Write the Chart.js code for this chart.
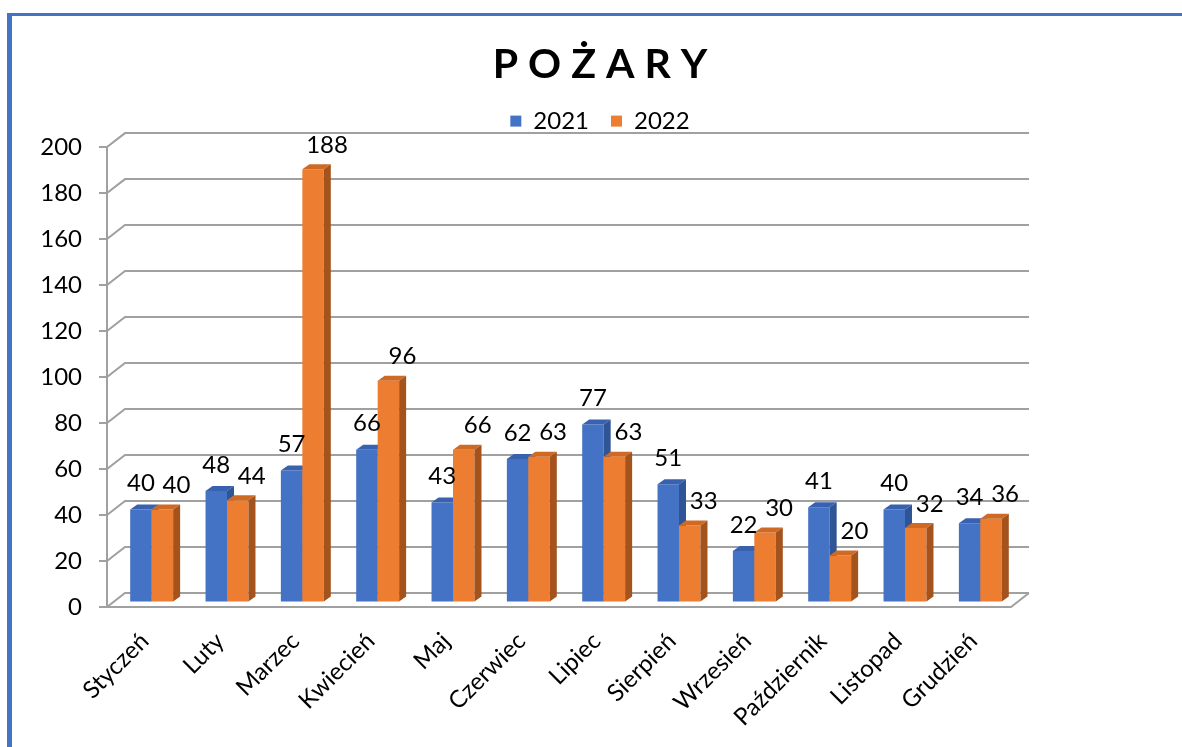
<!DOCTYPE html>
<html lang="pl">
<head>
<meta charset="utf-8">
<title>Pożary</title>
<script src="https://cdn.jsdelivr.net/npm/chart.js@4.4.1/dist/chart.umd.min.js"></script>
<style>
  html, body { margin: 0; padding: 0; background: #fff; }
  #wrap { position: relative; width: 1182px; height: 747px; overflow: hidden; }
  #frame {
    position: absolute; left: 7px; top: 13px; right: 0; bottom: 0;
    border-top: 3px solid #4472c4; border-left: 5px solid #4472c4;
  }
  #chart { position: absolute; left: 0; top: 0; }
</style>
</head>
<body>
<div id="wrap">
  <div id="frame"></div>
  <canvas id="chart" width="1182" height="747"></canvas>
</div>
<script>
const months = ['Styczeń', 'Luty', 'Marzec', 'Kwiecień', 'Maj', 'Czerwiec', 'Lipiec', 'Sierpień', 'Wrzesień', 'Październik', 'Listopad', 'Grudzień'];
const fires2021 = [40, 48, 57, 66, 43, 62, 77, 51, 22, 41, 40, 34];
const fires2022 = [40, 44, 188, 96, 66, 63, 63, 33, 30, 20, 32, 36];
const yMin = 0;
const yMax = 200;
const yStep = 20;

const FONT = 'Lato, "Open Sans", sans-serif';
const GRID = '#a0a0a0';
const WALL = { dx: 18, dy: -14 };   // front edge -> back wall
const PLANE = { dx: 7, dy: -5.5 };  // front edge -> bar faces
const DEPTH = { dx: 7, dy: -5 };    // bar thickness

const seriesColors = [
  { front: '#4472c4', top: '#3862b0', side: '#2f5597' },
  { front: '#ed7d31', top: '#cf6a24', side: '#a4531d' },
];
const labelShift = [{ dx: 0, dy: -26 }, { dx: 14, dy: -24 }];

function poly(ctx, pts, color) {
  ctx.beginPath();
  ctx.moveTo(pts[0][0], pts[0][1]);
  for (let i = 1; i < pts.length; i++) ctx.lineTo(pts[i][0], pts[i][1]);
  ctx.closePath();
  ctx.fillStyle = color;
  ctx.fill();
}

// draws walls, floor and the 3D bars; default bar drawing is skipped
const chart3d = {
  id: 'chart3d',
  beforeDatasetsDraw(chart) {
    const { ctx, chartArea: a, scales } = chart;
    const y = scales.y;
    ctx.save();
    ctx.strokeStyle = GRID;
    ctx.lineWidth = 2;
    ctx.beginPath();
    ctx.moveTo(a.left - 8, a.bottom);
    ctx.lineTo(a.right, a.bottom);
    ctx.lineTo(a.right + WALL.dx, a.bottom + WALL.dy);
    y.ticks.forEach((t) => {
      const py = y.getPixelForValue(t.value);
      ctx.moveTo(a.left - 8, py);
      ctx.lineTo(a.left, py);
      ctx.lineTo(a.left + WALL.dx, py + WALL.dy);
      ctx.lineTo(a.right + WALL.dx, py + WALL.dy);
    });
    ctx.moveTo(a.left, a.top);
    ctx.lineTo(a.left, a.bottom);
    ctx.stroke();

    ctx.translate(PLANE.dx, PLANE.dy);
    const metas = chart.getSortedVisibleDatasetMetas();
    for (let i = 0; i < chart.data.labels.length; i++) {
      metas.forEach((meta) => {
        const bar = meta.data[i];
        const c = seriesColors[meta.index];
        const l = bar.x - bar.width / 2;
        const r = bar.x + bar.width / 2;
        const t = bar.y;
        const b = bar.base;
        poly(ctx, [[l, t], [r, t], [r, b], [l, b]], c.front);
        poly(ctx, [[l, t], [l + DEPTH.dx, t + DEPTH.dy], [r + DEPTH.dx, t + DEPTH.dy], [r, t]], c.top);
        poly(ctx, [[r, t], [r + DEPTH.dx, t + DEPTH.dy], [r + DEPTH.dx, b + DEPTH.dy], [r, b]], c.side);
      });
    }

    ctx.font = '24px ' + FONT;
    ctx.fillStyle = '#000';
    ctx.textAlign = 'center';
    ctx.textBaseline = 'middle';
    metas.forEach((meta) => {
      const ds = chart.data.datasets[meta.index];
      const s = labelShift[meta.index];
      meta.data.forEach((bar, i) => {
        ctx.fillText(String(ds.data[i]), bar.x + s.dx, bar.y + s.dy);
      });
    });
    ctx.restore();
    return false;
  },
};

const ctx = document.getElementById('chart').getContext('2d');
new Chart(ctx, {
  type: 'bar',
  data: {
    labels: months,
    datasets: [
      {
        label: '2021',
        data: fires2021,
        backgroundColor: seriesColors[0].front,
        categoryPercentage: 0.57,
        barPercentage: 1,
      },
      {
        label: '2022',
        data: fires2022,
        backgroundColor: seriesColors[1].front,
        categoryPercentage: 0.57,
        barPercentage: 1,
      },
    ],
  },
  options: {
    responsive: false,
    animation: false,
    events: [],
    layout: { padding: { left: 18, right: 0, top: 0, bottom: 0 } },
    plugins: {
      title: {
        display: true,
        text: 'P O Ż A R Y',
        color: '#000',
        font: { family: FONT, size: 41, weight: 'bold', lineHeight: 1.1 },
        padding: { top: 42, bottom: 0 },
      },
      legend: {
        position: 'top',
        labels: {
          boxWidth: 11,
          boxHeight: 11,
          padding: 22,
          color: '#000',
          font: { family: FONT, size: 24 },
        },
      },
      tooltip: { enabled: false },
    },
    scales: {
      x: {
        grid: { display: false, drawTicks: false },
        border: { display: false },
        ticks: {
          color: '#000',
          font: { family: FONT, size: 24 },
          minRotation: 45,
          maxRotation: 45,
          padding: 20,
        },
        afterFit: (s) => { s.height = 140; },
      },
      gap: {
        type: 'category',
        position: 'top',
        labels: [''],
        grid: { display: false, drawTicks: false },
        border: { display: false },
        ticks: { display: false },
        afterFit: (s) => { s.height = 4; },
      },
      y: {
        min: yMin,
        max: yMax,
        grid: { display: false, drawTicks: false },
        border: { display: false },
        ticks: {
          stepSize: yStep,
          color: '#000',
          padding: 25,
          font: { family: FONT, size: 24 },
        },
        afterFit: (s) => { s.width = 89; },
      },
      right: {
        type: 'linear',
        position: 'right',
        grid: { display: false, drawTicks: false },
        border: { display: false },
        ticks: { display: false },
        afterFit: (s) => { s.width = 171; },
      },
    },
  },
  plugins: [chart3d],
});
</script>
</body>
</html>
